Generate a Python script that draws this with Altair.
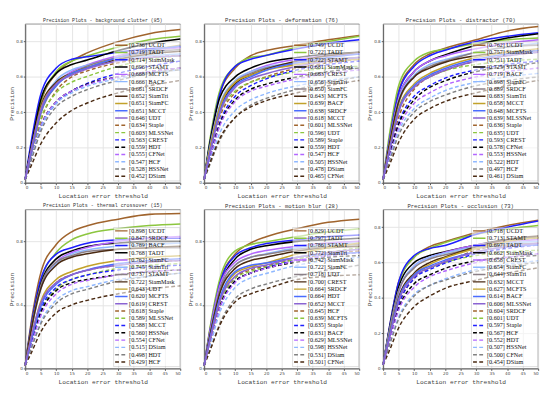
import altair as alt
import pandas as pd

# thresholds at which curve values were read
X = [0, 2, 5, 10, 15, 20, 30, 40, 50]

# ---------------- panel 1 ----------------
P1_TITLE = "Precision Plots - background clutter (85)"
P1_YMAX = 0.9
P1_NAMES = ["UCDT", "TADT", "SiamMask", "STAMT", "MCFTS", "BACF", "SRDCF", "SiamTri", "SiamFC", "MCCT",
            "UDT", "Staple", "MLSSNet", "CREST", "HDT", "CFNet", "HCF", "HSSNet", "DSiam"]
P1_SCORES = [0.736, 0.719, 0.714, 0.696, 0.668, 0.666, 0.661, 0.652, 0.651, 0.651,
             0.646, 0.634, 0.603, 0.563, 0.559, 0.555, 0.547, 0.528, 0.452]
P1_CURVES = [
    [0.02, 0.20, 0.45, 0.62, 0.69, 0.736, 0.80, 0.845, 0.868],
    [0.02, 0.22, 0.46, 0.63, 0.69, 0.719, 0.77, 0.81, 0.83],
    [0.02, 0.24, 0.50, 0.65, 0.70, 0.714, 0.74, 0.76, 0.77],
    [0.02, 0.21, 0.47, 0.62, 0.67, 0.696, 0.75, 0.79, 0.815],
    [0.02, 0.18, 0.40, 0.56, 0.63, 0.668, 0.72, 0.75, 0.765],
    [0.02, 0.19, 0.42, 0.58, 0.64, 0.666, 0.70, 0.72, 0.73],
    [0.02, 0.17, 0.39, 0.55, 0.62, 0.661, 0.71, 0.74, 0.755],
    [0.02, 0.20, 0.43, 0.57, 0.62, 0.652, 0.70, 0.73, 0.745],
    [0.02, 0.19, 0.42, 0.56, 0.62, 0.651, 0.71, 0.75, 0.78],
    [0.02, 0.18, 0.40, 0.55, 0.62, 0.651, 0.71, 0.75, 0.775],
    [0.02, 0.19, 0.41, 0.56, 0.61, 0.646, 0.69, 0.71, 0.72],
    [0.02, 0.15, 0.35, 0.52, 0.60, 0.634, 0.68, 0.71, 0.72],
    [0.02, 0.16, 0.36, 0.51, 0.57, 0.603, 0.66, 0.70, 0.72],
    [0.02, 0.14, 0.31, 0.45, 0.52, 0.563, 0.62, 0.66, 0.69],
    [0.02, 0.14, 0.32, 0.46, 0.52, 0.559, 0.60, 0.63, 0.65],
    [0.02, 0.15, 0.32, 0.46, 0.52, 0.555, 0.60, 0.63, 0.65],
    [0.02, 0.14, 0.31, 0.45, 0.51, 0.547, 0.59, 0.62, 0.64],
    [0.02, 0.13, 0.29, 0.43, 0.49, 0.528, 0.58, 0.62, 0.64],
    [0.02, 0.10, 0.22, 0.34, 0.41, 0.452, 0.51, 0.55, 0.58],
]

# ---------------- panel 2 ----------------
P2_TITLE = "Precision Plots - deformation (76)"
P2_YMAX = 0.9
P2_NAMES = ["UCDT", "TADT", "STAMT", "SiamMask", "CREST", "SiamTri", "SiamFC", "MCFTS", "BACF", "SRDCF",
            "MCCT", "MLSSNet", "UDT", "Staple", "HDT", "HCF", "HSSNet", "DSiam", "CFNet"]
P2_SCORES = [0.749, 0.722, 0.722, 0.681, 0.663, 0.656, 0.650, 0.643, 0.639, 0.638,
             0.618, 0.601, 0.596, 0.589, 0.559, 0.547, 0.505, 0.478, 0.465]
P2_CURVES = [
    [0.02, 0.25, 0.50, 0.65, 0.72, 0.749, 0.78, 0.81, 0.835],
    [0.02, 0.26, 0.52, 0.66, 0.71, 0.722, 0.77, 0.80, 0.83],
    [0.02, 0.24, 0.50, 0.66, 0.70, 0.722, 0.76, 0.79, 0.81],
    [0.02, 0.24, 0.48, 0.60, 0.65, 0.681, 0.71, 0.73, 0.74],
    [0.02, 0.20, 0.43, 0.57, 0.63, 0.663, 0.70, 0.72, 0.73],
    [0.02, 0.22, 0.44, 0.58, 0.63, 0.656, 0.68, 0.70, 0.71],
    [0.02, 0.21, 0.43, 0.57, 0.62, 0.650, 0.68, 0.70, 0.71],
    [0.02, 0.19, 0.41, 0.56, 0.61, 0.643, 0.69, 0.72, 0.74],
    [0.02, 0.20, 0.42, 0.57, 0.61, 0.639, 0.67, 0.69, 0.70],
    [0.02, 0.18, 0.40, 0.55, 0.60, 0.638, 0.68, 0.71, 0.73],
    [0.02, 0.18, 0.39, 0.54, 0.59, 0.618, 0.66, 0.69, 0.71],
    [0.02, 0.17, 0.37, 0.51, 0.57, 0.601, 0.65, 0.68, 0.70],
    [0.02, 0.19, 0.39, 0.52, 0.57, 0.596, 0.63, 0.65, 0.66],
    [0.02, 0.15, 0.34, 0.49, 0.55, 0.589, 0.64, 0.67, 0.69],
    [0.02, 0.15, 0.33, 0.47, 0.53, 0.559, 0.60, 0.63, 0.65],
    [0.02, 0.15, 0.32, 0.46, 0.52, 0.547, 0.59, 0.62, 0.64],
    [0.02, 0.13, 0.28, 0.41, 0.47, 0.505, 0.55, 0.58, 0.60],
    [0.02, 0.11, 0.24, 0.37, 0.44, 0.478, 0.53, 0.57, 0.60],
    [0.02, 0.12, 0.25, 0.37, 0.43, 0.465, 0.51, 0.55, 0.58],
]

# ---------------- panel 3 ----------------
P3_TITLE = "Precision Plots - distractor (70)"
P3_YMAX = 0.9
P3_NAMES = ["UCDT", "SiamMask", "TADT", "STAMT", "BACF", "SiamFC", "SRDCF", "SiamTri", "MCCT", "MCFTS",
            "MLSSNet", "Staple", "UDT", "CREST", "CFNet", "HSSNet", "HDT", "HCF", "DSiam"]
P3_SCORES = [0.762, 0.757, 0.751, 0.725, 0.719, 0.698, 0.689, 0.683, 0.658, 0.648,
             0.639, 0.636, 0.635, 0.593, 0.578, 0.553, 0.522, 0.497, 0.461]
P3_CURVES = [
    [0.02, 0.24, 0.52, 0.67, 0.73, 0.762, 0.81, 0.86, 0.885],
    [0.02, 0.27, 0.55, 0.69, 0.74, 0.757, 0.79, 0.81, 0.82],
    [0.02, 0.24, 0.51, 0.66, 0.72, 0.751, 0.80, 0.83, 0.85],
    [0.02, 0.22, 0.48, 0.63, 0.69, 0.725, 0.78, 0.82, 0.845],
    [0.02, 0.23, 0.48, 0.63, 0.69, 0.719, 0.76, 0.79, 0.81],
    [0.02, 0.22, 0.47, 0.61, 0.67, 0.698, 0.74, 0.77, 0.79],
    [0.02, 0.20, 0.45, 0.60, 0.66, 0.689, 0.74, 0.77, 0.78],
    [0.02, 0.22, 0.46, 0.60, 0.65, 0.683, 0.72, 0.74, 0.75],
    [0.02, 0.19, 0.42, 0.56, 0.62, 0.658, 0.71, 0.74, 0.76],
    [0.02, 0.18, 0.41, 0.55, 0.61, 0.648, 0.70, 0.73, 0.75],
    [0.02, 0.18, 0.40, 0.54, 0.60, 0.639, 0.69, 0.72, 0.74],
    [0.02, 0.16, 0.37, 0.53, 0.60, 0.636, 0.69, 0.72, 0.74],
    [0.02, 0.20, 0.42, 0.55, 0.60, 0.635, 0.67, 0.69, 0.70],
    [0.02, 0.15, 0.34, 0.49, 0.55, 0.593, 0.64, 0.67, 0.69],
    [0.02, 0.15, 0.33, 0.47, 0.54, 0.578, 0.63, 0.66, 0.68],
    [0.02, 0.14, 0.31, 0.45, 0.51, 0.553, 0.60, 0.63, 0.65],
    [0.02, 0.13, 0.29, 0.42, 0.48, 0.522, 0.57, 0.60, 0.62],
    [0.02, 0.12, 0.27, 0.40, 0.46, 0.497, 0.55, 0.58, 0.60],
    [0.02, 0.10, 0.23, 0.36, 0.42, 0.461, 0.51, 0.55, 0.58],
]

# ---------------- panel 4 ----------------
P4_TITLE = "Precision Plots - thermal crossover (15)"
P4_YMAX = 1.0
P4_NAMES = ["UCDT", "SRDCF", "BACF", "TADT", "SiamFC", "SiamTri", "STAMT", "SiamMask", "UDT", "MCFTS",
            "CREST", "Staple", "MLSSNet", "MCCT", "HSSNet", "CFNet", "DSiam", "HDT", "HCF"]
P4_SCORES = [0.898, 0.847, 0.789, 0.768, 0.762, 0.745, 0.737, 0.722, 0.643, 0.620,
             0.619, 0.618, 0.589, 0.588, 0.560, 0.554, 0.515, 0.498, 0.429]
P4_CURVES = [
    [0.02, 0.30, 0.60, 0.78, 0.86, 0.898, 0.94, 0.97, 0.975],
    [0.02, 0.27, 0.55, 0.73, 0.81, 0.847, 0.88, 0.90, 0.91],
    [0.02, 0.28, 0.56, 0.72, 0.76, 0.789, 0.81, 0.82, 0.82],
    [0.02, 0.26, 0.53, 0.69, 0.74, 0.768, 0.79, 0.80, 0.80],
    [0.02, 0.25, 0.51, 0.67, 0.73, 0.762, 0.80, 0.82, 0.83],
    [0.02, 0.24, 0.50, 0.66, 0.72, 0.745, 0.77, 0.78, 0.79],
    [0.02, 0.26, 0.52, 0.67, 0.71, 0.737, 0.75, 0.76, 0.76],
    [0.02, 0.25, 0.50, 0.65, 0.70, 0.722, 0.75, 0.76, 0.77],
    [0.02, 0.20, 0.42, 0.56, 0.61, 0.643, 0.68, 0.70, 0.71],
    [0.02, 0.18, 0.39, 0.53, 0.59, 0.620, 0.66, 0.68, 0.69],
    [0.02, 0.20, 0.41, 0.54, 0.59, 0.619, 0.65, 0.67, 0.68],
    [0.02, 0.19, 0.40, 0.54, 0.59, 0.618, 0.65, 0.67, 0.68],
    [0.02, 0.17, 0.36, 0.50, 0.56, 0.589, 0.63, 0.65, 0.66],
    [0.02, 0.17, 0.37, 0.51, 0.56, 0.588, 0.62, 0.64, 0.65],
    [0.02, 0.16, 0.35, 0.49, 0.54, 0.560, 0.59, 0.61, 0.62],
    [0.02, 0.15, 0.33, 0.47, 0.53, 0.554, 0.59, 0.61, 0.62],
    [0.02, 0.13, 0.29, 0.43, 0.49, 0.515, 0.56, 0.58, 0.60],
    [0.02, 0.13, 0.28, 0.41, 0.47, 0.498, 0.55, 0.58, 0.60],
    [0.02, 0.10, 0.23, 0.35, 0.40, 0.429, 0.47, 0.50, 0.52],
]

# ---------------- panel 5 ----------------
P5_TITLE = "Precision Plots - motion blur (28)"
P5_YMAX = 1.0
P5_NAMES = ["UCDT", "TADT", "STAMT", "SiamTri", "SiamMask", "SiamFC", "UDT", "CREST", "SRDCF", "HDT",
            "MCCT", "HCF", "MCFTS", "Staple", "BACF", "MLSSNet", "HSSNet", "DSiam", "CFNet"]
P5_SCORES = [0.829, 0.797, 0.786, 0.772, 0.742, 0.722, 0.718, 0.700, 0.664, 0.664,
             0.652, 0.645, 0.639, 0.635, 0.631, 0.629, 0.598, 0.531, 0.501]
P5_CURVES = [
    [0.02, 0.26, 0.54, 0.72, 0.79, 0.829, 0.88, 0.92, 0.94],
    [0.02, 0.27, 0.56, 0.74, 0.78, 0.797, 0.83, 0.86, 0.88],
    [0.02, 0.25, 0.53, 0.71, 0.76, 0.786, 0.81, 0.83, 0.84],
    [0.02, 0.24, 0.51, 0.69, 0.75, 0.772, 0.80, 0.81, 0.82],
    [0.02, 0.25, 0.52, 0.67, 0.72, 0.742, 0.77, 0.79, 0.80],
    [0.02, 0.23, 0.49, 0.65, 0.70, 0.722, 0.76, 0.78, 0.79],
    [0.02, 0.23, 0.49, 0.65, 0.70, 0.718, 0.75, 0.77, 0.78],
    [0.02, 0.22, 0.47, 0.63, 0.68, 0.700, 0.74, 0.76, 0.77],
    [0.02, 0.19, 0.42, 0.60, 0.64, 0.664, 0.72, 0.76, 0.79],
    [0.02, 0.20, 0.44, 0.61, 0.65, 0.664, 0.70, 0.72, 0.73],
    [0.02, 0.19, 0.42, 0.58, 0.63, 0.652, 0.70, 0.73, 0.75],
    [0.02, 0.18, 0.40, 0.57, 0.62, 0.645, 0.69, 0.72, 0.74],
    [0.02, 0.18, 0.40, 0.57, 0.61, 0.639, 0.69, 0.73, 0.76],
    [0.02, 0.17, 0.38, 0.55, 0.60, 0.635, 0.68, 0.71, 0.73],
    [0.02, 0.18, 0.39, 0.55, 0.60, 0.631, 0.67, 0.70, 0.71],
    [0.02, 0.17, 0.38, 0.54, 0.60, 0.629, 0.68, 0.71, 0.73],
    [0.02, 0.15, 0.35, 0.51, 0.57, 0.598, 0.65, 0.68, 0.70],
    [0.02, 0.12, 0.28, 0.44, 0.50, 0.531, 0.58, 0.62, 0.65],
    [0.02, 0.12, 0.27, 0.42, 0.47, 0.501, 0.56, 0.58, 0.59],
]

# ---------------- panel 6 ----------------
P6_TITLE = "Precision Plots - occlusion (73)"
P6_YMAX = 0.9
P6_NAMES = ["UCDT", "STAMT", "TADT", "SiamMask", "CREST", "SiamFC", "SiamTri", "MCCT", "MCFTS", "BACF",
            "MLSSNet", "SRDCF", "UDT", "Staple", "HCF", "HDT", "HSSNet", "CFNet", "DSiam"]
P6_SCORES = [0.718, 0.713, 0.697, 0.662, 0.658, 0.654, 0.644, 0.632, 0.627, 0.614,
             0.606, 0.604, 0.601, 0.597, 0.567, 0.552, 0.507, 0.500, 0.454]
P6_CURVES = [
    [0.02, 0.23, 0.49, 0.63, 0.69, 0.718, 0.77, 0.81, 0.84],
    [0.02, 0.22, 0.48, 0.63, 0.68, 0.713, 0.76, 0.79, 0.81],
    [0.02, 0.23, 0.49, 0.64, 0.68, 0.697, 0.76, 0.80, 0.835],
    [0.02, 0.22, 0.46, 0.60, 0.64, 0.662, 0.70, 0.73, 0.74],
    [0.02, 0.20, 0.43, 0.58, 0.63, 0.658, 0.70, 0.72, 0.73],
    [0.02, 0.21, 0.44, 0.58, 0.63, 0.654, 0.69, 0.71, 0.72],
    [0.02, 0.21, 0.44, 0.57, 0.62, 0.644, 0.68, 0.70, 0.71],
    [0.02, 0.18, 0.40, 0.54, 0.60, 0.632, 0.69, 0.73, 0.75],
    [0.02, 0.18, 0.39, 0.53, 0.59, 0.627, 0.68, 0.72, 0.74],
    [0.02, 0.18, 0.39, 0.53, 0.58, 0.614, 0.66, 0.69, 0.70],
    [0.02, 0.17, 0.38, 0.52, 0.57, 0.606, 0.66, 0.69, 0.71],
    [0.02, 0.16, 0.36, 0.51, 0.57, 0.604, 0.67, 0.71, 0.74],
    [0.02, 0.19, 0.40, 0.53, 0.57, 0.601, 0.64, 0.66, 0.67],
    [0.02, 0.16, 0.36, 0.51, 0.56, 0.597, 0.65, 0.68, 0.70],
    [0.02, 0.16, 0.34, 0.48, 0.53, 0.567, 0.61, 0.63, 0.64],
    [0.02, 0.15, 0.33, 0.46, 0.52, 0.552, 0.60, 0.63, 0.65],
    [0.02, 0.13, 0.29, 0.42, 0.47, 0.507, 0.56, 0.59, 0.61],
    [0.02, 0.13, 0.28, 0.41, 0.47, 0.500, 0.55, 0.58, 0.60],
    [0.02, 0.10, 0.23, 0.35, 0.41, 0.454, 0.50, 0.54, 0.57],
]

# line styles by rank (11 solid, then 8 dashed)
COLORS = ["#a0642d", "#8cc63f", "#1f1fff", "#000000", "#b266ff", "#8fb8ff", "#8a7f86",
          "#4a2a12", "#c2a22a", "#4a6cff", "#8a63d2",
          "#a0642d", "#8cc63f", "#1f1fff", "#000000", "#b266ff", "#8fb8ff", "#808080", "#4a2a12"]
N_SOLID = 11
RANKS = list(range(19))
DASHES = [[1, 0]] * N_SOLID + [[4, 2.5]] * (19 - N_SOLID)

W, H = 162, 166
MONO = "Liberation Mono"
SERIF = "Liberation Serif"


def panel(title, ymax, names, scores, curves):
    rows = []
    for r, (n, c) in enumerate(zip(names, curves)):
        for x, y in zip(X, c):
            rows.append({"tracker": n, "rank": r, "x": x, "y": y})
    df = pd.DataFrame(rows)

    leg = pd.DataFrame({
        "rank": RANKS,
        "label": [f"[{s:.3f}] {n}" for s, n in zip(scores, names)],
    })
    leg["ly"] = [ymax * (1 - (22.5 + 7.7 * r) / 168.0) for r in RANKS]

    yvals = [round(i * 0.1, 1) for i in range(int(round(ymax * 10)) + 1)]
    common = dict(labelFontSize=4.3, titleFontSize=6.5, titleFont=MONO,
                  titleFontWeight="normal", labelPadding=1, labelOverlap=False,
                  tickSize=2, labelColor="#444", titleColor="#444",
                  gridColor="#e4e4e4", domainColor="#555", tickColor="#555")
    xenc = alt.X("x:Q", scale=alt.Scale(domain=[0, 50], nice=False),
                 axis=alt.Axis(values=list(range(0, 51, 5)), title="Location error threshold",
                               titlePadding=3, **common))
    yenc = alt.Y("y:Q", scale=alt.Scale(domain=[0, ymax], nice=False),
                 axis=alt.Axis(values=yvals, format=".1~f", title="Precision",
                               titlePadding=1, **common))
    cscale = alt.Scale(domain=RANKS, range=COLORS)

    base = alt.Chart(df)
    dashed = base.transform_filter(f"datum.rank >= {N_SOLID}").mark_line(
        strokeWidth=1.5, strokeDash=[4, 2.5], interpolate="monotone"
    ).encode(x=xenc, y=yenc, color=alt.Color("rank:N", scale=cscale, legend=None), detail="tracker:N")
    solid = base.transform_filter(f"datum.rank < {N_SOLID}").mark_line(
        strokeWidth=1.6, interpolate="monotone"
    ).encode(x=xenc, y=yenc, color=alt.Color("rank:N", scale=cscale, legend=None), detail="tracker:N")

    box = alt.Chart(pd.DataFrame({"a": [0]})).mark_rect(
        fill="white", opacity=0.6, stroke="#777", strokeWidth=0.4
    ).encode(x=alt.value(0.57 * W), x2=alt.value(W - 0.5),
             y=alt.value(19 * H / 168), y2=alt.value(166 * H / 168))

    lbase = alt.Chart(leg)
    lrule = lbase.mark_rule(strokeWidth=1.5).encode(
        x=alt.value(0.58 * W), x2=alt.value(0.66 * W),
        y=alt.Y("ly:Q"),
        color=alt.Color("rank:N", scale=cscale, legend=None),
        strokeDash=alt.StrokeDash("rank:N", scale=alt.Scale(domain=RANKS, range=DASHES), legend=None),
    )
    ltext = lbase.mark_text(align="left", baseline="middle", font=SERIF, fontSize=6.4,
                            color="#111").encode(
        x=alt.value(0.67 * W), y=alt.Y("ly:Q"), text="label:N")

    fs = min(5.8, 125.0 / (0.6 * len(title)))
    return alt.layer(dashed, solid, box, lrule, ltext).properties(
        width=W, height=H,
        title=alt.TitleParams(title, font=MONO, fontSize=fs, fontWeight="normal",
                              color="#333", offset=1),
    )


p1 = panel(P1_TITLE, P1_YMAX, P1_NAMES, P1_SCORES, P1_CURVES)
p2 = panel(P2_TITLE, P2_YMAX, P2_NAMES, P2_SCORES, P2_CURVES)
p3 = panel(P3_TITLE, P3_YMAX, P3_NAMES, P3_SCORES, P3_CURVES)
p4 = panel(P4_TITLE, P4_YMAX, P4_NAMES, P4_SCORES, P4_CURVES)
p5 = panel(P5_TITLE, P5_YMAX, P5_NAMES, P5_SCORES, P5_CURVES)
p6 = panel(P6_TITLE, P6_YMAX, P6_NAMES, P6_SCORES, P6_CURVES)

chart = alt.vconcat(
    alt.hconcat(p1, p2, p3, spacing=3),
    alt.hconcat(p4, p5, p6, spacing=3),
    spacing=2,
).properties(padding=0).configure_view(stroke="#444", strokeWidth=0.6).configure_axis(
    labelFont="DejaVu Sans"
)

chart.save("out.html", embed_options={"renderer": "svg", "actions": False})
